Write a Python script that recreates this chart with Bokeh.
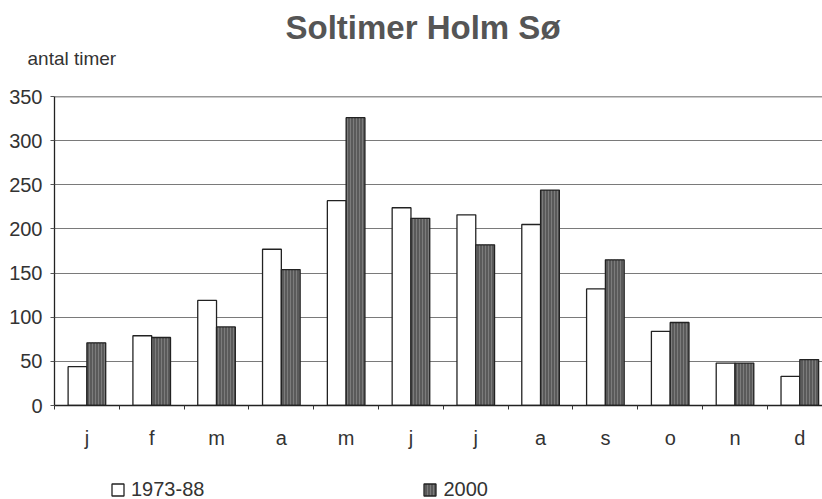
import numpy as np
from bokeh.plotting import figure
from bokeh.layouts import column
from bokeh.models import (Range1d, FixedTicker, Title, Legend, LegendItem, Span,
                          ColumnDataSource, BoxAnnotation)
from bokeh.embed import file_html
from bokeh.resources import INLINE

months = ["j", "f", "m", "a", "m", "j", "j", "a", "s", "o", "n", "d"]
normal_1973_88 = [44, 79, 119, 177, 232, 224, 216, 205, 132, 84, 48, 33]
year_2000 = [71, 77, 89, 154, 326, 212, 182, 244, 165, 94, 48, 52]
y_ticks = [0, 50, 100, 150, 200, 250, 300, 350]
series_names = ["1973-88", "2000"]

idx = np.arange(len(months))
centers = idx + 0.5
src = ColumnDataSource(dict(
    x1=centers - 0.145, x2=centers + 0.145,
    a=normal_1973_88, b=year_2000,
))

FONT = "Liberation Sans"
TXT = "#333333"
WHITE_STYLE = dict(fill_color="white", line_color="#222222", line_width=1.3)
DARK_STYLE = dict(fill_color="#5a5a5a", hatch_pattern="vertical_line",
                  hatch_color="#7c7c7c", hatch_scale=3, hatch_weight=1,
                  line_color="#222222", line_width=1.3)

p = figure(width=822, height=460, output_backend="svg", toolbar_location=None,
           x_range=Range1d(0, 11.85), y_range=Range1d(0, 350),
           min_border_left=54, min_border_right=0, min_border_top=96,
           min_border_bottom=55, title=None)
p.outline_line_color = None
p.background_fill_color = "white"
p.border_fill_color = "white"

p.vbar(x="x1", top="a", width=0.29, source=src, **WHITE_STYLE)
p.vbar(x="x2", top="b", width=0.29, source=src, **DARK_STYLE)

# axes
p.yaxis.ticker = FixedTicker(ticks=y_ticks)
p.yaxis.major_label_text_font = FONT
p.yaxis.major_label_text_font_size = "20px"
p.yaxis.major_label_text_color = TXT
p.yaxis.major_tick_out = 4
p.yaxis.major_tick_in = 0
p.yaxis.minor_tick_line_color = None
p.yaxis.major_label_standoff = 8
p.yaxis.axis_line_color = "#222222"
p.yaxis.axis_line_width = 1.3
p.yaxis.major_tick_line_color = "#555555"

p.xaxis.ticker = FixedTicker(ticks=list(centers), minor_ticks=list(range(13)))
p.xaxis.major_label_overrides = {float(c): m for c, m in zip(centers, months)}
p.xaxis.major_tick_in = 0
p.xaxis.major_tick_out = 0
p.xaxis.minor_tick_in = 0
p.xaxis.minor_tick_out = 4
p.xaxis.minor_tick_line_color = "#333333"
p.xaxis.major_label_standoff = 17
p.xaxis.major_label_text_font = FONT
p.xaxis.major_label_text_font_size = "20px"
p.xaxis.major_label_text_color = TXT
p.xaxis.axis_line_color = "#222222"
p.xaxis.axis_line_width = 1.3

p.xgrid.grid_line_color = None
p.ygrid.grid_line_color = "#7a7a7a"
p.ygrid.grid_line_width = 1

p.add_layout(Span(location=350, dimension="width", line_color="#333333", line_width=1.5))

# titles (added from the plot outward)
sub = Title(text="antal timer", align="left", offset=-27, standoff=56,
            text_font=FONT, text_font_size="19px", text_font_style="normal",
            text_color=TXT)
p.add_layout(sub, "above")
main = Title(text="Soltimer Holm Sø", align="left", offset=231, standoff=-56,
             text_font=FONT, text_font_size="33px", text_font_style="bold",
             text_color="#555555")
p.add_layout(main, "above")

# legend strip: its bars are hidden under a white box; only the legend shows
lg = figure(width=822, height=39, output_backend="svg", toolbar_location=None,
            x_range=Range1d(0, 11.85), y_range=Range1d(1000, 1001),
            min_border_left=0, min_border_right=0, min_border_top=0,
            min_border_bottom=0)
lg.axis.visible = False
lg.grid.visible = False
lg.outline_line_color = None
lr1 = lg.vbar(x="x1", top="a", width=0.29, source=src, **WHITE_STYLE)
lr2 = lg.vbar(x="x2", top="b", width=0.29, source=src, **DARK_STYLE)
lg.add_layout(BoxAnnotation(fill_color="white", fill_alpha=1.0, line_color=None))
legend = Legend(items=[LegendItem(label=series_names[0], renderers=[lr1]),
                       LegendItem(label=series_names[1], renderers=[lr2])],
                orientation="horizontal", location=(56, -2),
                spacing=218, glyph_width=15, glyph_height=15,
                label_text_font=FONT, label_text_font_size="20px",
                label_text_color=TXT, label_standoff=6,
                border_line_color=None, background_fill_alpha=0,
                padding=0, margin=0)
lg.add_layout(legend, "center")

layout = column(p, lg, spacing=0)
open("out.html", "w").write(file_html(layout, INLINE))
